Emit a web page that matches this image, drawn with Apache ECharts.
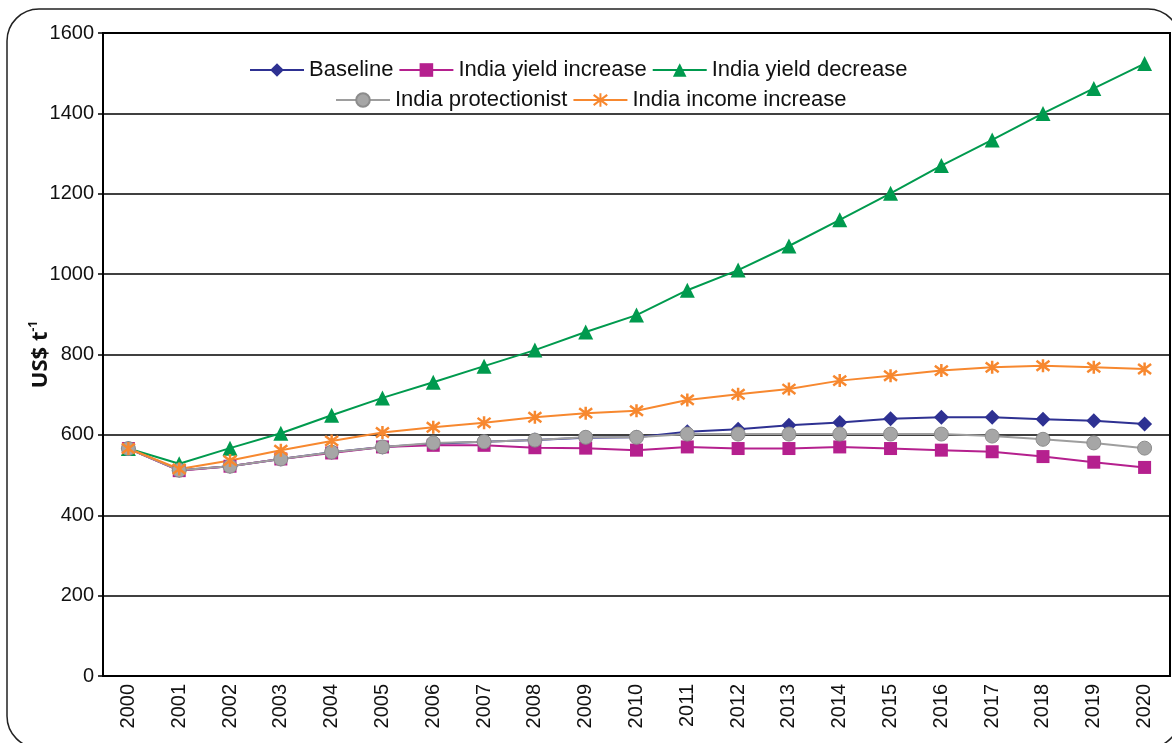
<!DOCTYPE html>
<html>
<head>
<meta charset="utf-8">
<script src="https://cdn.jsdelivr.net/npm/echarts@6/dist/echarts.min.js"></script>
<style>
  html, body { margin: 0; padding: 0; background: #fff; }
  #chart { width: 1172px; height: 743px; }
</style>
</head>
<body>
<div id="chart"></div>
<script>
  // data
  let years = ['2000','2001','2002','2003','2004','2005','2006','2007','2008','2009','2010',
               '2011','2012','2013','2014','2015','2016','2017','2018','2019','2020'];
  let baseline = [566, 512, 522, 540, 557, 570, 578, 583, 587, 593, 594,
                  608, 614, 624, 631, 640, 644, 644, 639, 635, 627];
  let yieldIncrease = [566, 511, 522, 540, 555, 570, 574, 574, 568, 567, 562,
                       570, 566, 566, 570, 566, 562, 558, 546, 532, 519];
  let yieldDecrease = [566, 528, 567, 604, 649, 692, 731, 771, 811, 856, 898,
                       960, 1010, 1070, 1135, 1201, 1270, 1334, 1400, 1462, 1524];
  let protectionist = [566, 512, 522, 540, 557, 570, 580, 583, 587, 594, 594,
                       602, 602, 602, 602, 602, 602, 597, 589, 580, 567];
  let incomeIncrease = [566, 515, 536, 562, 585, 606, 619, 630, 644, 654, 660,
                        687, 701, 714, 735, 747, 760, 768, 772, 768, 764];
  let yTicks = [0, 200, 400, 600, 800, 1000, 1200, 1400, 1600];

  let asterisk = 'path://M5,0L5,10M1.2,1.2L8.8,8.8M8.8,1.2L1.2,8.8';

  let chart = echarts.init(document.getElementById('chart'));

  function line(name, data, symbol, size, color, extra) {
    let s = {
      name: name,
      type: 'line',
      data: data,
      symbol: symbol,
      symbolSize: size,
      showAllSymbol: true,
      lineStyle: { color: color, width: 2 },
      itemStyle: { color: color },
      emphasis: { disabled: true },
      animation: false
    };
    return Object.assign(s, extra || {});
  }

  let legendText = { fontFamily: 'Liberation Sans', fontSize: 22, color: '#111' };

  chart.setOption({
    textStyle: { fontFamily: 'Liberation Sans' },
    graphic: [{
      type: 'rect',
      shape: { x: 7, y: 9, width: 1173, height: 739, r: 32 },
      style: { fill: 'none', stroke: '#222', lineWidth: 1.5 },
      z: -1
    }],
    grid: {
      left: 103, right: 2, top: 33, bottom: 67,
      show: true, borderColor: '#000', borderWidth: 2, backgroundColor: 'transparent'
    },
    legend: [{
      data: ['Baseline', 'India yield increase', 'India yield decrease'],
      left: 244, top: 54,
      itemWidth: 54, itemHeight: 17, itemGap: 5,
      textStyle: legendText
    }, {
      data: ['India protectionist', 'India income increase'],
      left: 330, top: 84,
      itemWidth: 54, itemHeight: 17, itemGap: 5,
      textStyle: legendText
    }],
    xAxis: {
      type: 'category',
      data: years,
      boundaryGap: true,
      axisLine: { lineStyle: { color: '#000', width: 2 } },
      axisTick: { length: 6, lineStyle: { color: '#000', width: 1.5 } },
      axisLabel: { rotate: 90, margin: 8, fontSize: 20, color: '#111', interval: 0 }
    },
    yAxis: {
      type: 'value',
      min: yTicks[0],
      max: yTicks[yTicks.length - 1],
      interval: 200,
      name: '{a|US$ t}{b|-1}',
      nameLocation: 'middle',
      nameGap: 49,
      nameMoveOverlap: false,
      nameRotate: 90,
      nameTextStyle: {
        rich: {
          a: { fontFamily: 'Open Sans', fontWeight: 'bold', fontSize: 22, color: '#111' },
          b: { fontFamily: 'Open Sans', fontWeight: 'bold', fontSize: 12, color: '#111', padding: [0, 0, 14, 0] }
        }
      },
      axisLine: { show: true, lineStyle: { color: '#000', width: 2 } },
      axisTick: { show: true, length: 5, lineStyle: { color: '#000', width: 1.5 } },
      axisLabel: { margin: 9, fontSize: 20, color: '#111', formatter: function (v) { return String(v); } },
      splitLine: { lineStyle: { color: '#000', width: 1.5 } }
    },
    series: [
      line('Baseline', baseline, 'diamond', 15, '#2E3192'),
      line('India yield increase', yieldIncrease, 'rect', 13, '#B5208E'),
      line('India yield decrease', yieldDecrease, 'triangle', 15, '#009A4E'),
      line('India protectionist', protectionist, 'circle', 14, '#9E9E9E', {
        itemStyle: { color: '#A6A6A6', borderColor: '#8C8C8C', borderWidth: 1 }
      }),
      line('India income increase', incomeIncrease, asterisk, 13, '#F7882F', {
        itemStyle: { color: 'transparent', borderColor: '#F7882F', borderWidth: 2.5 }
      })
    ]
  });
</script>
</body>
</html>
